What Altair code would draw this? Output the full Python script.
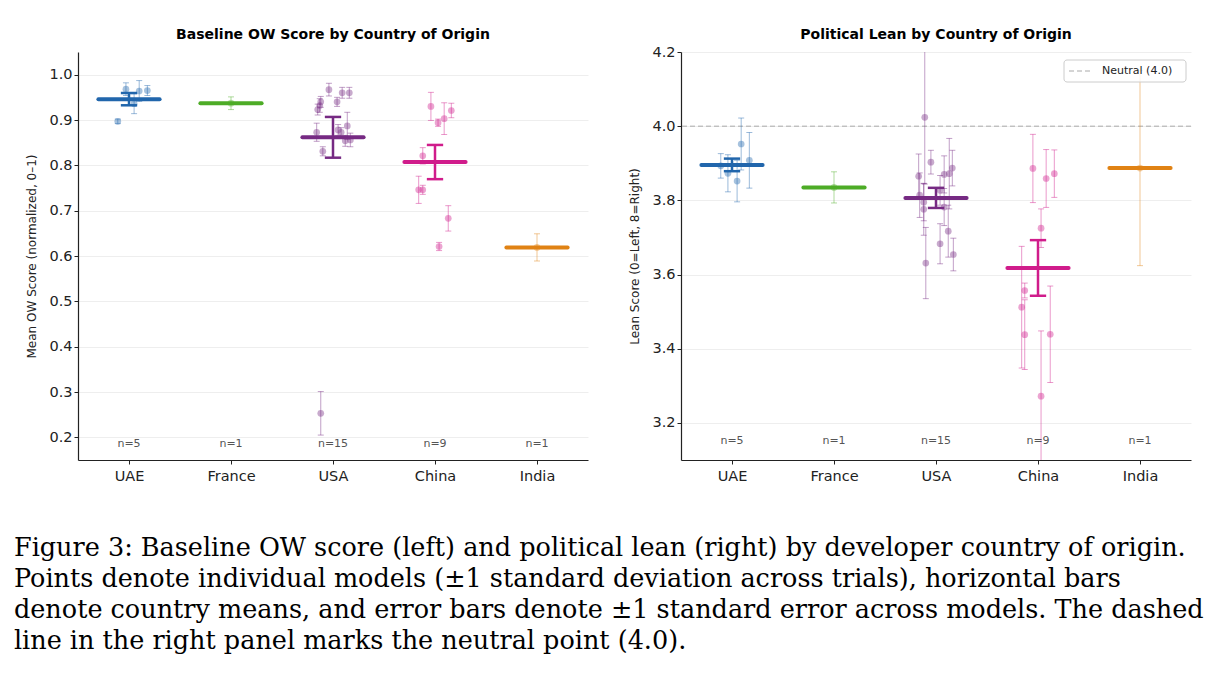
import altair as alt
import pandas as pd
import numpy as np

countries = ["UAE", "France", "USA", "China", "India"]
colors = ["#2166ac", "#4dac26", "#762a83", "#d01c8b", "#e08214"]

model_country = ["UAE"] * 5 + ["France"] + ["USA"] * 15 + ["China"] * 9 + ["India"]

# Left panel: baseline OW score per model
ow_jitter = [-0.03, 0.10, 0.18, -0.11, 0.05,
             0.0,
             -0.04, 0.09, 0.16, 0.04, -0.12, -0.13, -0.15, -0.16, 0.05, 0.08, 0.14, 0.12, 0.17, -0.10, -0.12,
             -0.04, 0.03, 0.09, 0.16, -0.12, -0.16, -0.12, 0.13, 0.04,
             0.0]
ow_value = [0.968, 0.964, 0.965, 0.897, 0.936,
            0.937,
            0.967, 0.960, 0.960, 0.940, 0.940, 0.932, 0.923, 0.873, 0.878, 0.873, 0.887, 0.854, 0.856, 0.831, 0.253,
            0.930, 0.894, 0.903, 0.921, 0.821, 0.746, 0.746, 0.683, 0.621,
            0.619]
ow_sd = [0.014, 0.023, 0.011, 0.005, 0.022,
         0.014,
         0.014, 0.012, 0.012, 0.010, 0.012, 0.015, 0.012, 0.020, 0.012, 0.010, 0.030, 0.012, 0.015, 0.010, 0.048,
         0.031, 0.008, 0.035, 0.016, 0.018, 0.030, 0.010, 0.028, 0.009,
         0.030]

# Right panel: political lean per model
lean_jitter = [0.09, 0.17, -0.11, -0.04, 0.05,
               0.0,
               -0.05, -0.17, 0.08, 0.13, 0.16, -0.16, -0.12, -0.12, 0.08, 0.04, 0.12, 0.04, 0.17, -0.10, -0.11,
               -0.05, 0.08, 0.16, 0.03, -0.13, -0.16, -0.13, 0.12, 0.03,
               0.0]
lean_value = [3.952, 3.908, 3.893, 3.873, 3.852,
              3.835,
              3.903, 3.865, 3.870, 3.872, 3.887, 3.814, 3.795, 3.776, 3.782, 3.827, 3.717, 3.683, 3.654, 3.631, 4.024,
              3.886, 3.859, 3.872, 3.725, 3.557, 3.512, 3.438, 3.439, 3.272,
              3.887]
lean_sd = [0.070, 0.075, 0.033, 0.050, 0.056,
           0.042,
           0.032, 0.060, 0.050, 0.095, 0.048, 0.060, 0.050, 0.070, 0.050, 0.040, 0.070, 0.054, 0.044, 0.096, 0.180,
           0.092, 0.078, 0.064, 0.052, 0.020, 0.164, 0.094, 0.130, 0.176,
           0.263]

neutral_value = 4.0
neutral_label = "Neutral (4.0)"

caption_lines = [
    "Figure 3: Baseline OW score (left) and political lean (right) by developer country of origin.",
    "Points denote individual models (±1 standard deviation across trials), horizontal bars",
    "denote country means, and error bars denote ±1 standard error across models. The dashed",
    "line in the right panel marks the neutral point (4.0).",
]

idx = {c: i for i, c in enumerate(countries)}
label_expr = "[" + ",".join('"%s"' % c for c in countries) + "][datum.value]"
color_scale = alt.Scale(domain=countries, range=colors)


def panel(jitter, value, sd, domain, yticks, title, ytitle, n_y, title_offset, neutral=False):
    df = pd.DataFrame({"country": model_country, "jit": jitter, "val": value, "sd": sd})
    df["pos"] = df["country"].map(idx) + df["jit"]
    df["lo"] = df["val"] - df["sd"]
    df["hi"] = df["val"] + df["sd"]
    g = df.groupby("country", sort=False)["val"]
    summ = pd.DataFrame({"mean": g.mean(), "sdv": g.std(ddof=1), "n": g.count()}).reset_index()
    summ["se"] = summ["sdv"] / np.sqrt(summ["n"])
    summ["pos"] = summ["country"].map(idx).astype(float)
    summ["x1"] = summ["pos"] - 0.3
    summ["x2"] = summ["pos"] + 0.3
    summ["c1"] = summ["pos"] - 0.08
    summ["c2"] = summ["pos"] + 0.08
    summ["lo"] = summ["mean"] - summ["se"]
    summ["hi"] = summ["mean"] + summ["se"]
    summ["label"] = "n=" + summ["n"].astype(str)
    summ["ny"] = n_y
    se_df = summ.dropna(subset=["se"]).copy()

    xs = alt.Scale(domain=[-0.5, 4.5], nice=False, zero=False)
    ys = alt.Scale(domain=domain, nice=False, zero=False)
    xa = alt.Axis(values=[0, 1, 2, 3, 4], labelExpr=label_expr, title=None, grid=False, labelPadding=5)
    ya = alt.Axis(values=yticks, format=".1f", title=ytitle, grid=True, titlePadding=10)

    def X(f):
        return alt.X(f, type="quantitative", scale=xs, axis=xa)

    def Y(f):
        return alt.Y(f, type="quantitative", scale=ys, axis=ya)

    col = alt.Color("country:N", scale=color_scale, legend=None)

    base = alt.Chart(df)
    err = base.mark_rule(strokeWidth=1, opacity=0.45, clip=True).encode(
        x=X("pos"), y=Y("lo"), y2="hi", color=col)
    cap_lo = base.mark_tick(orient="horizontal", size=6, thickness=1, opacity=0.45, clip=True).encode(
        x=X("pos"), y=Y("lo"), color=col)
    cap_hi = base.mark_tick(orient="horizontal", size=6, thickness=1, opacity=0.45, clip=True).encode(
        x=X("pos"), y=Y("hi"), color=col)
    pts = base.mark_circle(size=45, opacity=0.4, clip=True).encode(
        x=X("pos"), y=Y("val"), color=col)

    sb = alt.Chart(summ)
    mean_bar = sb.mark_rule(strokeWidth=4, strokeCap="round", clip=True).encode(
        x=X("x1"), x2="x2", y=Y("mean"), color=col)
    sbe = alt.Chart(se_df)
    se_line = sbe.mark_rule(strokeWidth=2.5, clip=True).encode(
        x=X("pos"), y=Y("lo"), y2="hi", color=col)
    se_cap_lo = sbe.mark_rule(strokeWidth=2.5, clip=True).encode(
        x=X("c1"), x2="c2", y=Y("lo"), color=col)
    se_cap_hi = sbe.mark_rule(strokeWidth=2.5, clip=True).encode(
        x=X("c1"), x2="c2", y=Y("hi"), color=col)
    ntext = sb.mark_text(fontSize=11, color="#555555", font="DejaVu Sans").encode(
        x=X("pos"), y=Y("ny"), text="label:N")

    layers = [err, cap_lo, cap_hi, pts, mean_bar, se_line, se_cap_lo, se_cap_hi, ntext]
    if neutral:
        ndf = pd.DataFrame({"y": [neutral_value], "lab": [neutral_label]})
        nb = alt.Chart(ndf)
        rule = nb.mark_rule(color="#aaaaaa", strokeWidth=1, strokeDash=[5, 3]).encode(y=Y("y"))
        leg_box = nb.mark_rect(fill="white", fillOpacity=0.8, stroke="#cccccc", strokeWidth=1,
                               cornerRadius=3).encode(
            x=alt.value(383), x2=alt.value(505), y=alt.value(8), y2=alt.value(30))
        leg_line = nb.mark_rule(color="#aaaaaa", strokeWidth=1, strokeDash=[5, 3]).encode(
            x=alt.value(388), x2=alt.value(411), y=alt.value(19))
        leg_text = nb.mark_text(align="left", baseline="middle", fontSize=11, font="DejaVu Sans",
                                color="#222222").encode(
            x=alt.value(421), y=alt.value(19), text="lab:N")
        layers = [rule] + layers + [leg_box, leg_line, leg_text]
    return alt.layer(*layers).properties(
        width=510, height=408,
        title=alt.TitleParams(title, fontSize=14, fontWeight="bold", font="DejaVu Sans",
                              offset=title_offset))


left = panel(ow_jitter, ow_value, ow_sd, [0.15, 1.05],
             [0.2, 0.3, 0.4, 0.5, 0.6, 0.7, 0.8, 0.9, 1.0],
             "Baseline OW Score by Country of Origin", "Mean OW Score (normalized, 0–1)", 0.185, 10)
right = panel(lean_jitter, lean_value, lean_sd, [3.1, 4.2],
              [3.2, 3.4, 3.6, 3.8, 4.0, 4.2],
              "Political Lean by Country of Origin", "Lean Score (0=Left, 8=Right)", 3.15, 2,
              neutral=True)

chart = alt.hconcat(left, right, spacing=40).properties(
    title=alt.TitleParams(caption_lines, orient="bottom", anchor="start", font="DejaVu Serif",
                          fontSize=25.5, fontWeight="normal", lineHeight=31.3, offset=53, dx=-12,
                          color="black"),
    padding={"left": 13, "top": 28, "right": 5, "bottom": 5},
    background="white",
).configure_view(stroke=None).configure_axis(
    labelFont="DejaVu Sans", titleFont="DejaVu Sans", labelFontSize=14.5, titleFontSize=12,
    titleFontWeight="normal", domainColor="#222222", tickColor="#222222", labelColor="#222222",
    titleColor="#222222", gridColor="#eeeeee", tickSize=4, domainWidth=1.2,
)

chart.save("out.html", embed_options={"renderer": "svg", "actions": False})
